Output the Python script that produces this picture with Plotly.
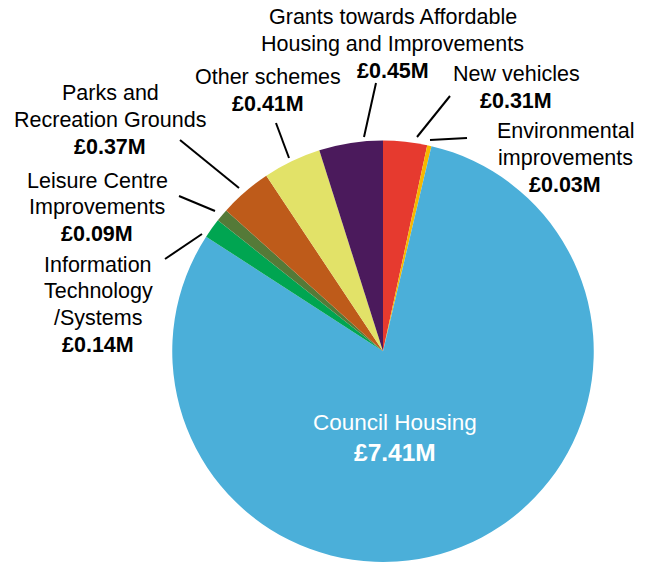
import plotly.graph_objects as go

# ---- data ----
categories = ["New vehicles", "Environmental improvements", "Council Housing",
              "Information Technology /Systems", "Leisure Centre Improvements",
              "Parks and Recreation Grounds", "Other schemes",
              "Grants towards Affordable Housing and Improvements"]
values_m = [0.31, 0.03, 7.41, 0.14, 0.09, 0.37, 0.41, 0.45]
colors = ["#E63A2F", "#F5B800", "#4BAFD9", "#00A551", "#557A38",
          "#BE5B1A", "#E2E268", "#4B1A5C"]
label_lines = [
    ["New vehicles"],
    ["Environmental", "improvements"],
    ["Council Housing"],
    ["Information", "Technology", "/Systems"],
    ["Leisure Centre", "Improvements"],
    ["Parks and", "Recreation Grounds"],
    ["Other schemes"],
    ["Grants towards Affordable", "Housing and Improvements"],
]

# ---- layout helpers (pixel -> paper) ----
W, H = 654, 562
def px(x):
    return x / W
def py(y):
    return 1 - y / H

# label anchor (x centre, first line y) per category
label_pos = [(516, 74), (565, 131), (395, 422.5), (98, 264.5),
             (97, 180.5), (110, 93), (268, 77.5), (393, 17.5)]
leader = [((450, 96), (417, 137)), ((467, 138), (430, 140)), None,
          ((165, 259), (202, 234)), ((179, 196), (215, 211)),
          ((180, 140), (239, 188)), ((276, 123), (289, 158)),
          ((376, 83), (364, 137))]
SPACING = 26.8
FONT = "Liberation Sans, Arial, sans-serif"

fig = go.Figure(go.Pie(
    labels=categories, values=values_m, sort=False, direction="clockwise",
    rotation=0, textinfo="none", hoverinfo="label+value",
    marker=dict(colors=colors, line=dict(width=0)),
    domain=dict(x=[(383 - 210.75) / W, (383 + 210.75) / W], y=[0, 0.75]),
    showlegend=False,
))

annotations = []
shapes = []
for i, cat in enumerate(categories):
    x0, y0 = label_pos[i]
    inside = cat == "Council Housing"
    col = "white" if inside else "black"
    size = 22.5 if inside else 21.5
    lines = label_lines[i]
    for k, t in enumerate(lines):
        annotations.append(dict(x=px(x0), y=py(y0 + k * SPACING), xref="paper",
                                yref="paper", text=t, showarrow=False,
                                xanchor="center", yanchor="middle",
                                font=dict(family=FONT, size=size, color=col)))
    vy = y0 + len(lines) * SPACING + (3 if inside else 0)
    annotations.append(dict(x=px(x0), y=py(vy), xref="paper", yref="paper",
                            text="<b>£%.2fM</b>" % values_m[i], showarrow=False,
                            xanchor="center", yanchor="middle",
                            font=dict(family=FONT, size=24.5 if inside else 21.5,
                                      color=col)))
    if leader[i]:
        (ax, ay), (bx, by) = leader[i]
        shapes.append(dict(type="line", xref="paper", yref="paper",
                           x0=px(ax), y0=py(ay), x1=px(bx), y1=py(by),
                           line=dict(color="black", width=2)))

fig.update_layout(width=W, height=H, margin=dict(l=0, r=0, t=0, b=0),
                  paper_bgcolor="white", plot_bgcolor="white",
                  annotations=annotations, shapes=shapes)
fig.write_html("out.html", config={"displayModeBar": False},
               post_script="document.body.style.margin='0';"
                           "document.body.style.overflow='hidden';")
